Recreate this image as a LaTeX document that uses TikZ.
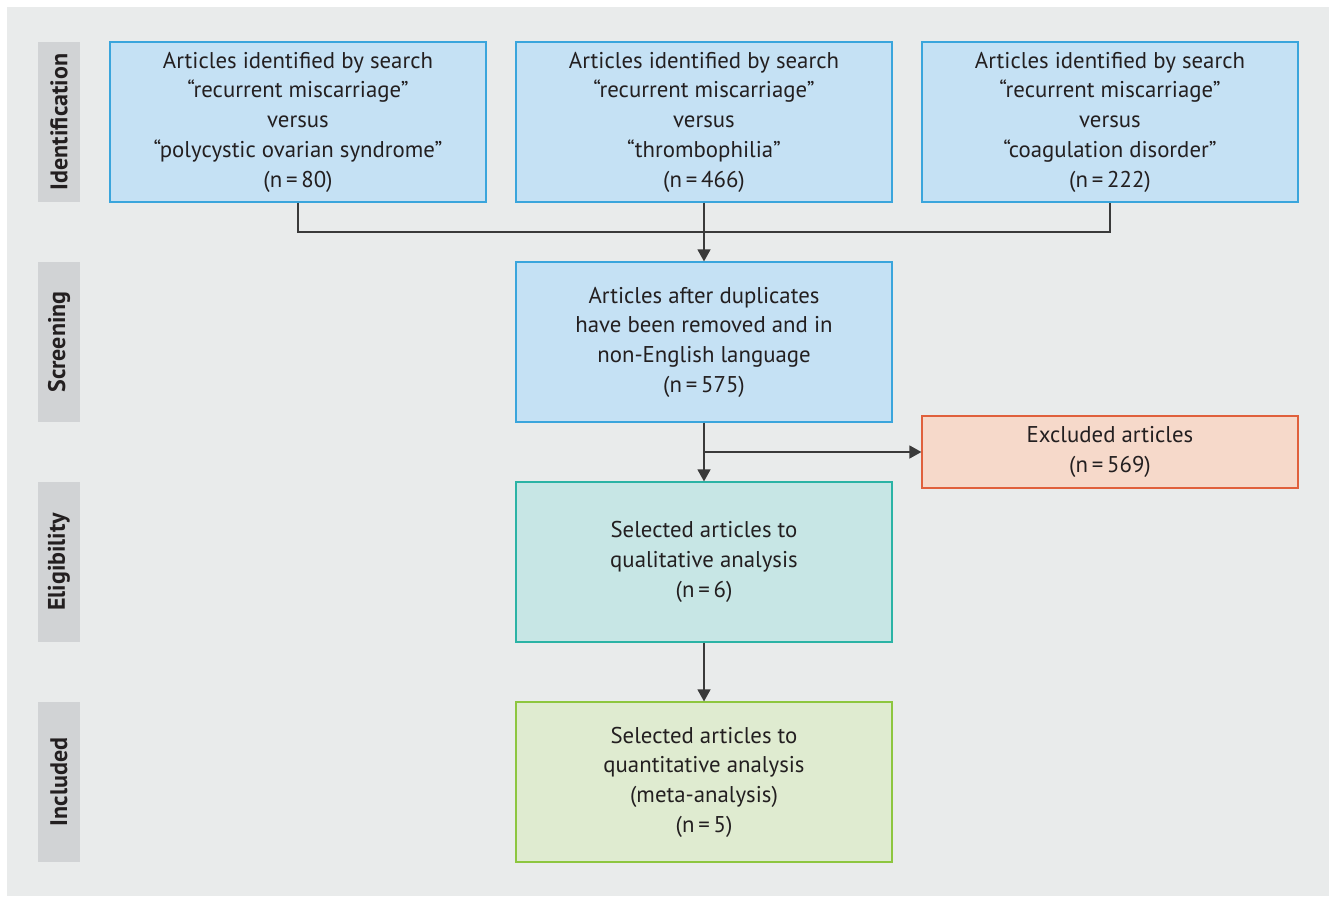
\documentclass[tikz,border=0pt]{standalone}
\usepackage{fontspec}
\setmainfont{PT Sans}
\usetikzlibrary{arrows.meta}
\definecolor{panel}{HTML}{E9EBEB}
\definecolor{sidegray}{HTML}{D1D3D5}
\definecolor{txt}{HTML}{231F20}
\definecolor{bluefill}{HTML}{C5E1F4}
\definecolor{blueline}{HTML}{3AA5DC}
\definecolor{tealfill}{HTML}{C7E6E5}
\definecolor{tealline}{HTML}{2BB3A5}
\definecolor{greenfill}{HTML}{DFEBD0}
\definecolor{greenline}{HTML}{8DC63F}
\definecolor{orangefill}{HTML}{F6D9CA}
\definecolor{orangeline}{HTML}{E0603C}
\definecolor{linecol}{HTML}{3A3A3A}
\tikzset{
  box/.style={draw, line width=1.2pt, minimum width=376pt, minimum height=160pt, inner sep=0pt,
    align=center, text=txt, font=\fontsize{22.8}{29.7}\selectfont},
  bluebox/.style={box, fill=bluefill, draw=blueline},
  tealbox/.style={box, fill=tealfill, draw=tealline},
  greenbox/.style={box, fill=greenfill, draw=greenline},
  orangebox/.style={box, fill=orangefill, draw=orangeline, minimum height=72pt},
  side/.style={fill=sidegray, minimum width=42pt, minimum height=160pt, inner sep=0pt},
  sidetext/.style={rotate=90, text=txt, font=\fontsize{24}{28}\selectfont\bfseries},
  conn/.style={draw=linecol, line width=1.4pt},
  arr/.style={conn, -{Triangle[length=12pt,width=13pt]}}
}
\begin{document}
\begin{tikzpicture}[x=1pt,y=-1pt]
\useasboundingbox (0,0) rectangle (1335,897);
\fill[white] (0,0) rectangle (1335,897);
\fill[panel] (7,7) rectangle (1329,896);
% side labels
\node[side] (s1) at (59,122) {};
\node[sidetext] (s1t) at (59,122) {Identification};
\node[side] (s2) at (59,342) {};
\node[sidetext] (s2t) at (59,342) {Screening};
\node[side] (s3) at (59,562) {};
\node[sidetext] (s3t) at (59,562) {Eligibility};
\node[side] (s4) at (59,782) {};
\node[sidetext] (s4t) at (59,782) {Included};
% boxes
\node[bluebox] (a) at (298,122) {Articles identified by search\\“recurrent miscarriage”\\versus\\“polycystic ovarian syndrome”\\(n\,=\,80)};
\node[bluebox] (b) at (704,122) {Articles identified by search\\“recurrent miscarriage”\\versus\\“thrombophilia”\\(n\,=\,466)};
\node[bluebox] (c) at (1110,122) {Articles identified by search\\“recurrent miscarriage”\\versus\\“coagulation disorder”\\(n\,=\,222)};
\node[bluebox] (d) at (704,342) {Articles after duplicates\\have been removed and in\\non-English language\\(n\,=\,575)};
\node[orangebox] (e) at (1110,452) {Excluded articles\\(n\,=\,569)};
\node[tealbox] (f) at (704,562) {Selected articles to\\qualitative analysis\\(n\,=\,6)};
\node[greenbox] (g) at (704,782) {Selected articles to\\quantitative analysis\\(meta-analysis)\\(n\,=\,5)};
% connectors
\coordinate (j) at (704,232);
\coordinate (k) at (704,452);
\draw[conn] (a.south) |- (j) -| (c.south);
\draw[arr] (b.south) -- (d.north);
\draw[arr] (d.south) -- (f.north);
\draw[arr] (k) -- (e.west);
\draw[arr] (f.south) -- (g.north);
\end{tikzpicture}
\end{document}
